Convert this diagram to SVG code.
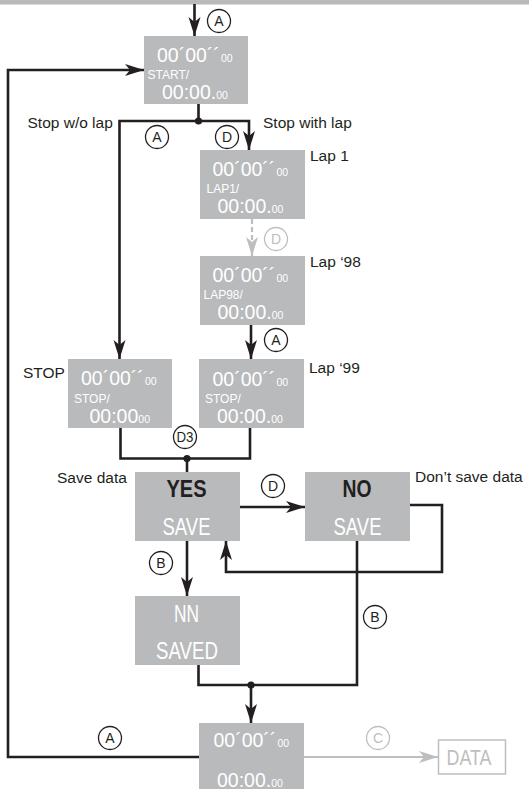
<svg xmlns="http://www.w3.org/2000/svg" width="529" height="789" viewBox="0 0 529 789">
<style>
.box{fill:#b9babc}
.big{font-family:"Liberation Sans",Arial,sans-serif;font-size:19.5px;fill:#fff}
.sm{font-size:10.5px}
.lbl{font-family:"Liberation Sans",Arial,sans-serif;font-size:12px;fill:#fff}
.word{font-family:"Liberation Sans",Arial,sans-serif;font-size:23px;fill:#fff}
.bold{font-family:"Liberation Sans",Arial,sans-serif;font-size:23px;font-weight:bold;fill:#231f20}
.note{font-family:"Liberation Sans",Arial,sans-serif;font-size:15.5px;fill:#231f20}
.ln{fill:none;stroke:#231f20;stroke-width:2.6}
.lng{fill:none;stroke:#bdbec0;stroke-width:2.2}
.cir{fill:#fff;stroke:#231f20;stroke-width:1.3}
.cirg{fill:#fff;stroke:#bdbec0;stroke-width:1.3}
.ct{font-family:"Liberation Sans",Arial,sans-serif;font-size:14px;fill:#231f20;text-anchor:middle}
.ctg{font-family:"Liberation Sans",Arial,sans-serif;font-size:14px;fill:#bdbec0;text-anchor:middle}
.dot{fill:#231f20}
</style>
<defs>
<marker id="ah" viewBox="-20 -7 20 14" refX="0" refY="0" markerWidth="20" markerHeight="14" markerUnits="userSpaceOnUse" orient="auto">
<path d="M0,0 L-19,-6 L-14,0 L-19,6 Z" fill="#231f20"/>
</marker>
<marker id="ahg" viewBox="-20 -7 20 14" refX="0" refY="0" markerWidth="20" markerHeight="14" markerUnits="userSpaceOnUse" orient="auto">
<path d="M0,0 L-19,-6 L-14,0 L-19,6 Z" fill="#bdbec0"/>
</marker>
</defs>
<rect x="0" y="0" width="529" height="4.5" fill="#b9babc"/>

<g id="connectors">
<path class="ln" d="M194.5,4 V36" marker-end="url(#ah)"/>
<path class="ln" d="M199,757 H8 V70 H144" marker-end="url(#ah)"/>
<path class="ln" d="M198.5,104 V121"/>
<path class="ln" d="M198.5,121 H119.5 V359" marker-end="url(#ah)"/>
<path class="ln" d="M198.5,121 H249 V150" marker-end="url(#ah)"/>
<circle class="dot" cx="198.5" cy="121" r="3.6"/>
<path class="lng" d="M252,219 V256" stroke-dasharray="5,3" marker-end="url(#ahg)"/>
<path class="ln" d="M251,325 V359" marker-end="url(#ah)"/>
<path class="ln" d="M120.5,428 V458.5 H250 V428"/>
<path class="ln" d="M187,458.5 V472"/>
<circle class="dot" cx="187" cy="458.5" r="3.6"/>
<path class="ln" d="M240,507 H305" marker-end="url(#ah)"/>
<path class="ln" d="M409,505 H442 V572 H226 V541" marker-end="url(#ah)"/>
<path class="ln" d="M187,541 V596" marker-end="url(#ah)"/>
<path class="ln" d="M357,541 V685 H198.5 V665"/>
<path class="ln" d="M251,685 V723" marker-end="url(#ah)"/>
<circle class="dot" cx="251" cy="685" r="3.6"/>
<path class="lng" d="M304,757 H438" marker-end="url(#ahg)"/>
</g>

<g id="keys">
<circle class="cir" cx="219" cy="21" r="11.5"/><text class="ct" x="219" y="26">A</text>
<circle class="cir" cx="157" cy="137" r="11.5"/><text class="ct" x="157" y="142">A</text>
<circle class="cir" cx="227" cy="137" r="11.5"/><text class="ct" x="227" y="142">D</text>
<circle class="cirg" cx="276" cy="239" r="11.5"/><text class="ctg" x="276" y="244">D</text>
<circle class="cir" cx="276" cy="340" r="11.5"/><text class="ct" x="276" y="345">A</text>
<circle class="cir" cx="185" cy="437" r="11.5"/><text class="ct" x="185" y="442" textLength="17" lengthAdjust="spacingAndGlyphs">D3</text>
<circle class="cir" cx="273" cy="486" r="11.5"/><text class="ct" x="273" y="491">D</text>
<circle class="cir" cx="161" cy="563" r="11.5"/><text class="ct" x="161" y="568">B</text>
<circle class="cir" cx="375" cy="617" r="11.5"/><text class="ct" x="375" y="622">B</text>
<circle class="cir" cx="110" cy="738" r="11.5"/><text class="ct" x="110" y="743">A</text>
<circle class="cirg" cx="378" cy="738" r="11.5"/><text class="ctg" x="378" y="743">C</text>
</g>

<g id="labels">
<text class="note" x="27.5" y="128">Stop w/o lap</text>
<text class="note" x="263" y="128">Stop with lap</text>
<text class="note" x="310" y="161">Lap 1</text>
<text class="note" x="310" y="267">Lap ‘98</text>
<text class="note" x="309" y="373">Lap ‘99</text>
<text class="note" x="23" y="378">STOP</text>
<text class="note" x="57" y="483">Save data</text>
<text class="note" x="415" y="482">Don’t save data</text>
</g>

<g id="start">
<rect class="box" x="144" y="36" width="104" height="68"/>
<text class="big" x="157" y="62"><tspan>00´00´´</tspan><tspan class="sm" dx="1">00</tspan></text>
<text class="lbl" x="147.5" y="79">START/</text>
<text class="big" x="162" y="99"><tspan>00:00.</tspan><tspan class="sm">00</tspan></text>
</g>

<g id="lap1">
<rect class="box" x="200" y="150" width="105" height="69"/>
<text class="big" x="212.5" y="176"><tspan>00´00´´</tspan><tspan class="sm" dx="1">00</tspan></text>
<text class="lbl" x="206.5" y="193">LAP1/</text>
<text class="big" x="217.5" y="212.5"><tspan>00:00.</tspan><tspan class="sm">00</tspan></text>
</g>

<g id="lap98">
<rect class="box" x="200" y="256" width="105" height="69"/>
<text class="big" x="212.5" y="282"><tspan>00´00´´</tspan><tspan class="sm" dx="1">00</tspan></text>
<text class="lbl" x="203.5" y="298.5">LAP98/</text>
<text class="big" x="217.5" y="318.5"><tspan>00:00.</tspan><tspan class="sm">00</tspan></text>
</g>

<g id="stop">
<rect class="box" x="68" y="359" width="104" height="69"/>
<text class="big" x="81" y="385"><tspan>00´00´´</tspan><tspan class="sm" dx="1">00</tspan></text>
<text class="lbl" x="74" y="402.5">STOP/</text>
<text class="big" x="89.5" y="422.5"><tspan>00:00</tspan><tspan class="sm">00</tspan></text>
</g>

<g id="lap99">
<rect class="box" x="199" y="359" width="105" height="69"/>
<text class="big" x="212.5" y="385.5"><tspan>00´00´´</tspan><tspan class="sm" dx="1">00</tspan></text>
<text class="lbl" x="205" y="403">STOP/</text>
<text class="big" x="217" y="423"><tspan>00:00.</tspan><tspan class="sm">00</tspan></text>
</g>

<g id="yes">
<rect class="box" x="135" y="472" width="105" height="69"/>
<text class="bold" x="166.5" y="497" textLength="40" lengthAdjust="spacingAndGlyphs">YES</text>
<text class="word" x="162.5" y="534.5" textLength="48" lengthAdjust="spacingAndGlyphs">SAVE</text>
</g>

<g id="no">
<rect class="box" x="305" y="472" width="105" height="69"/>
<text class="bold" x="342.5" y="497" textLength="29" lengthAdjust="spacingAndGlyphs">NO</text>
<text class="word" x="333.5" y="534.5" textLength="48" lengthAdjust="spacingAndGlyphs">SAVE</text>
</g>

<g id="saved">
<rect class="box" x="135" y="596" width="105" height="69"/>
<text class="word" x="174" y="622" textLength="25" lengthAdjust="spacingAndGlyphs">NN</text>
<text class="word" x="156" y="658.5" textLength="62" lengthAdjust="spacingAndGlyphs">SAVED</text>
</g>

<g id="final">
<rect class="box" x="199" y="723" width="105" height="66"/>
<text class="big" x="213.5" y="747"><tspan>00´00´´</tspan><tspan class="sm" dx="1">00</tspan></text>
<text class="big" x="217" y="786.5"><tspan>00:00.</tspan><tspan class="sm">00</tspan></text>
</g>

<g id="data">
<rect x="438.5" y="740" width="67" height="34" fill="#fff" stroke="#bdbec0" stroke-width="1.5"/>
<text x="446.5" y="765" font-family="Liberation Sans, Arial, sans-serif" font-size="22" fill="#bdbec0" textLength="45" lengthAdjust="spacingAndGlyphs">DATA</text>
</g>
</svg>
